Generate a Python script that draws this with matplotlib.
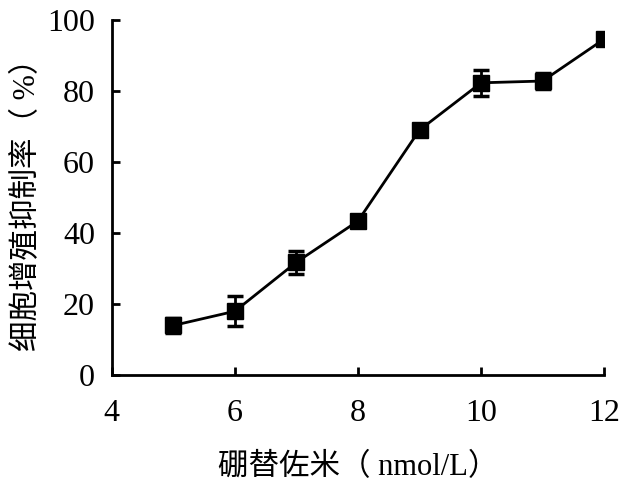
import numpy as np
import matplotlib
matplotlib.use("Agg")
import matplotlib.pyplot as plt

# data
dose = [5, 6, 7, 8, 9, 10, 11, 12]
inhibition = [14.0, 18.0, 31.8, 43.4, 69.0, 82.3, 82.8, 94.6]
err = [2.0, 4.2, 3.2, 1.8, 1.0, 3.6, 2.2, 1.0]

xticks = [4, 6, 8, 10, 12]
yticks = [0, 20, 40, 60, 80, 100]

mixed = ['Liberation Serif', 'Noto Sans CJK SC']
serif = ['Liberation Serif']

fig = plt.figure(figsize=(6.28, 4.86), dpi=100)
ax = fig.add_axes([0.178, 0.228, 0.784, 0.731])

ax.errorbar(dose, inhibition, yerr=err, color='black', lw=2, marker='s',
            markersize=11, capsize=6, elinewidth=2, capthick=2.5)

ax.set_xlim(4, 12)
ax.set_ylim(0, 100)
ax.set_xticks(xticks)
ax.set_yticks(yticks)
ax.spines['top'].set_visible(False)
ax.spines['right'].set_visible(False)
for s in ['left', 'bottom']:
    ax.spines[s].set_linewidth(2)
ax.tick_params(direction='in', width=2, length=6, labelsize=23)
ax.tick_params(axis='x', pad=17)
ax.tick_params(axis='y', pad=12)
for lab in ax.get_xticklabels() + ax.get_yticklabels():
    lab.set_family(serif)

ax.set_xlabel('硼替佐米（ nmol/L）', fontsize=22, family=mixed,
              fontweight='light', labelpad=18)
ax.set_ylabel('细胞增殖抑制率（ %）', fontsize=22, family=mixed,
              fontweight='light', labelpad=4)

fig.savefig('out.png', dpi=100)
